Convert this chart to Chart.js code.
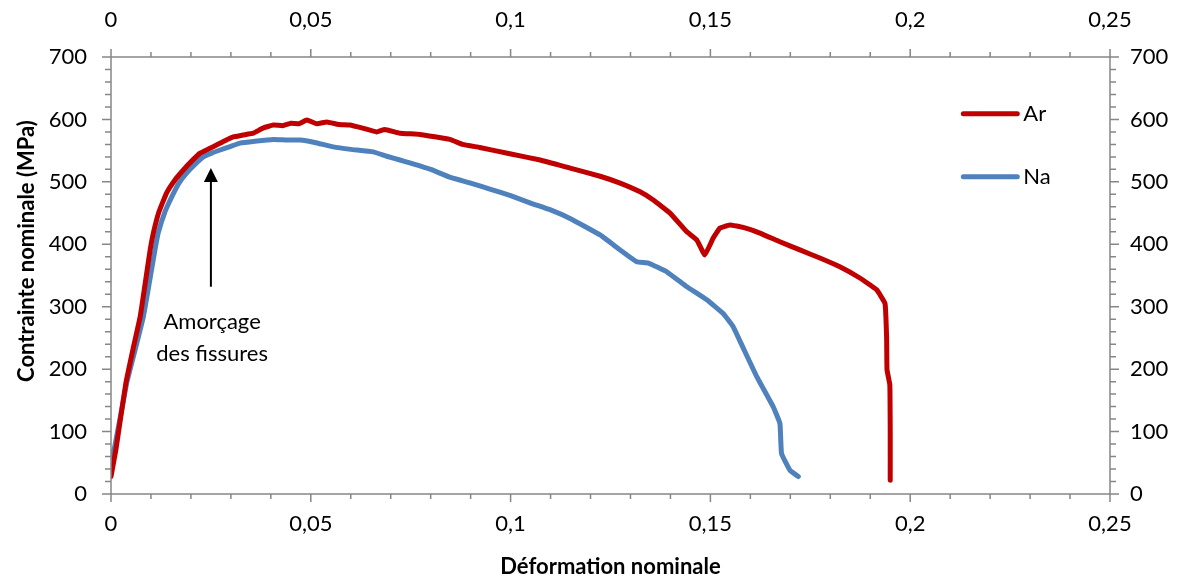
<!DOCTYPE html>
<html>
<head>
<meta charset="utf-8">
<script src="https://cdn.jsdelivr.net/npm/chart.js@4.4.1/dist/chart.umd.min.js"></script>
<style>
  html, body { margin: 0; padding: 0; background: #fff; }
  #zone { width: 1179px; height: 580px; }
</style>
</head>
<body>
<div id="zone"><canvas id="grafico"></canvas></div>
<script>
// Données (déformation nominale / contrainte en MPa)
const deformationAr = [0, 0.0012, 0.0037, 0.0055, 0.0073, 0.0085, 0.0098, 0.0106, 0.012, 0.0139, 0.016, 0.0181, 0.02, 0.0223, 0.0245, 0.0264, 0.0285, 0.0306, 0.033, 0.0356, 0.038, 0.0406, 0.043, 0.045, 0.047, 0.049, 0.0515, 0.054, 0.057, 0.0598, 0.063, 0.0665, 0.0685, 0.0723, 0.0773, 0.0848, 0.088, 0.0923, 0.0998, 0.1074, 0.1149, 0.1224, 0.1274, 0.1324, 0.1357, 0.1399, 0.1441, 0.1466, 0.1486, 0.1507, 0.1524, 0.1549, 0.1582, 0.1624, 0.1674, 0.1724, 0.1774, 0.1824, 0.1874, 0.1916, 0.1937, 0.1941, 0.1942, 0.1949, 0.195, 0.195];
const contrainteAr = [28, 70, 177, 232, 284, 335, 391, 418, 452, 482, 503, 519, 532, 546, 553, 559, 566, 572, 575, 578, 586, 591, 590, 594, 593, 599, 593, 596, 592, 591, 586, 580, 584, 578, 576, 568, 560, 555, 545, 535, 522, 509, 498, 484, 471, 450, 420, 407, 383, 410, 426, 431, 427, 418, 404, 391, 378, 364, 346, 327, 305, 250, 199, 175, 100, 22];

const deformationNa = [0, 0.0009, 0.0039, 0.006, 0.0081, 0.0095, 0.011, 0.0118, 0.0135, 0.0152, 0.017, 0.0189, 0.021, 0.0231, 0.0252, 0.0273, 0.03, 0.0323, 0.036, 0.0406, 0.044, 0.0473, 0.051, 0.0556, 0.06, 0.0656, 0.069, 0.0723, 0.075, 0.08, 0.085, 0.09, 0.095, 0.1, 0.105, 0.11, 0.115, 0.1224, 0.1274, 0.1316, 0.1345, 0.1391, 0.1441, 0.1491, 0.1532, 0.1557, 0.1582, 0.1616, 0.1657, 0.1674, 0.1678, 0.1699, 0.172];
const contrainteNa = [58, 75, 177, 230, 284, 335, 391, 418, 452, 476, 498, 514, 528, 540, 546, 551, 557, 562, 565, 568, 567, 567, 563, 556, 552, 548, 541, 535, 530, 520, 507, 498, 488, 478, 466, 455, 441, 415, 391, 372, 370, 356, 332, 311, 289, 268, 234, 188, 140, 113, 65, 38, 28];

const nomsSeries = ['Ar', 'Na'];
const couleurs = ['#C00000', '#4F81BD'];

const limitesX = [0, 0.25];
const limitesY = [0, 700];

const POLICE = 'Lato, "Open Sans", sans-serif';
const GRIS = '#868686';

function versPoints(xs, ys) {
    return xs.map((x, i) => ({ x: x, y: ys[i] }));
}

function formatVirgule(v) {
    return String(Math.round(v * 100) / 100).replace('.', ',');
}

// Plugin : axes avec graduations majeures et mineures, légende, flèche, titre vertical
const decorPlugin = {
    id: 'decor',
    afterDraw(chart) {
        const ctx = chart.ctx;
        const a = chart.chartArea;
        const sx = chart.scales.x, sy = chart.scales.y;
        ctx.save();
        ctx.strokeStyle = GRIS;
        ctx.lineWidth = 1.5;
        ctx.beginPath();
        ctx.rect(a.left, a.top, a.right - a.left, a.bottom - a.top);
        ctx.stroke();

        // graduations X (tous les 0,01)
        for (let i = 0; i <= 25; i++) {
            const px = sx.getPixelForValue(i / 100);
            const long = (i % 5 === 0) ? 8 : 5;
            ctx.beginPath();
            ctx.moveTo(px, a.bottom); ctx.lineTo(px, a.bottom + long);
            ctx.moveTo(px, a.top); ctx.lineTo(px, a.top - long);
            ctx.stroke();
        }
        // graduations Y (tous les 20 MPa)
        for (let v = 0; v <= 700; v += 20) {
            const py = sy.getPixelForValue(v);
            const long = (v % 100 === 0) ? 9 : 6;
            ctx.beginPath();
            ctx.moveTo(a.left, py); ctx.lineTo(a.left - long, py);
            ctx.moveTo(a.right, py); ctx.lineTo(a.right + long, py);
            ctx.stroke();
        }

        // légende
        ctx.font = '22px ' + POLICE;
        ctx.textBaseline = 'middle';
        ctx.textAlign = 'left';
        const legendeY = [609, 508];
        nomsSeries.forEach((nom, i) => {
            const y = sy.getPixelForValue(legendeY[i]);
            const x1 = sx.getPixelForValue(0.2133);
            const x2 = sx.getPixelForValue(0.2268);
            ctx.strokeStyle = couleurs[i];
            ctx.lineWidth = 5;
            ctx.lineCap = 'round';
            ctx.beginPath();
            ctx.moveTo(x1, y); ctx.lineTo(x2, y);
            ctx.stroke();
            ctx.fillStyle = '#000';
            ctx.fillText(nom, x2 + 6, y);
        });

        // flèche "Amorçage des fissures"
        const fx = sx.getPixelForValue(0.025);
        const bas = sy.getPixelForValue(332);
        const pointe = sy.getPixelForValue(522);
        ctx.strokeStyle = '#000';
        ctx.fillStyle = '#000';
        ctx.lineWidth = 2;
        ctx.lineCap = 'butt';
        ctx.beginPath();
        ctx.moveTo(fx, bas); ctx.lineTo(fx, pointe + 12);
        ctx.stroke();
        ctx.beginPath();
        ctx.moveTo(fx, pointe);
        ctx.lineTo(fx - 7, pointe + 14);
        ctx.lineTo(fx + 7, pointe + 14);
        ctx.closePath();
        ctx.fill();

        ctx.textAlign = 'center';
        const tx = sx.getPixelForValue(0.0253);
        ctx.fillText('Amorçage', tx, sy.getPixelForValue(276));
        ctx.fillText('des fissures', tx, sy.getPixelForValue(225));

        // titre de l'axe vertical
        ctx.translate(27, 251);
        ctx.rotate(-Math.PI / 2);
        ctx.font = 'bold 22px ' + POLICE;
        ctx.fillText('Contrainte nominale (MPa)', 0, 0);
        ctx.restore();
    }
};

function axe(position, largeur, pad, avecTitre) {
    const horiz = position === 'top' || position === 'bottom';
    const limites = horiz ? limitesX : limitesY;
    return {
        type: 'linear',
        position: position,
        min: limites[0],
        max: limites[1],
        grid: { display: false, drawTicks: false },
        border: { display: false },
        ticks: {
            stepSize: horiz ? 0.05 : 100,
            padding: pad,
            color: '#000',
            font: { family: POLICE, size: 22 },
            callback: horiz ? formatVirgule : (v => v)
        },
        title: avecTitre ? {
            display: true,
            text: 'Déformation nominale',
            color: '#000',
            font: { family: POLICE, size: 22, weight: 'bold' },
            padding: { top: 0, bottom: 0 }
        } : { display: false },
        afterFit(scale) {
            if (horiz) scale.height = largeur; else scale.width = largeur;
        }
    };
}

new Chart(document.getElementById('grafico').getContext('2d'), {
    type: 'scatter',
    data: {
        datasets: [
            {
                label: nomsSeries[0],
                data: versPoints(deformationAr, contrainteAr),
                showLine: true,
                borderColor: couleurs[0],
                borderWidth: 5,
                pointRadius: 0,
                borderJoinStyle: 'round',
                borderCapStyle: 'round',
                tension: 0.1,
                xAxisID: 'x',
                yAxisID: 'y'
            },
            {
                label: nomsSeries[1],
                data: versPoints(deformationNa, contrainteNa),
                showLine: true,
                borderColor: couleurs[1],
                borderWidth: 5,
                pointRadius: 0,
                borderJoinStyle: 'round',
                borderCapStyle: 'round',
                tension: 0.1,
                xAxisID: 'x',
                yAxisID: 'y'
            }
        ]
    },
    options: {
        responsive: true,
        maintainAspectRatio: false,
        animation: false,
        layout: { padding: 0 },
        plugins: {
            legend: { display: false },
            tooltip: { enabled: false }
        },
        scales: {
            x: axe('bottom', 86, 17, true),
            x2: axe('top', 57, 24, false),
            y: axe('left', 111, 24, false),
            y2: axe('right', 69, 20, false)
        }
    },
    plugins: [decorPlugin]
});
</script>
</body>
</html>
